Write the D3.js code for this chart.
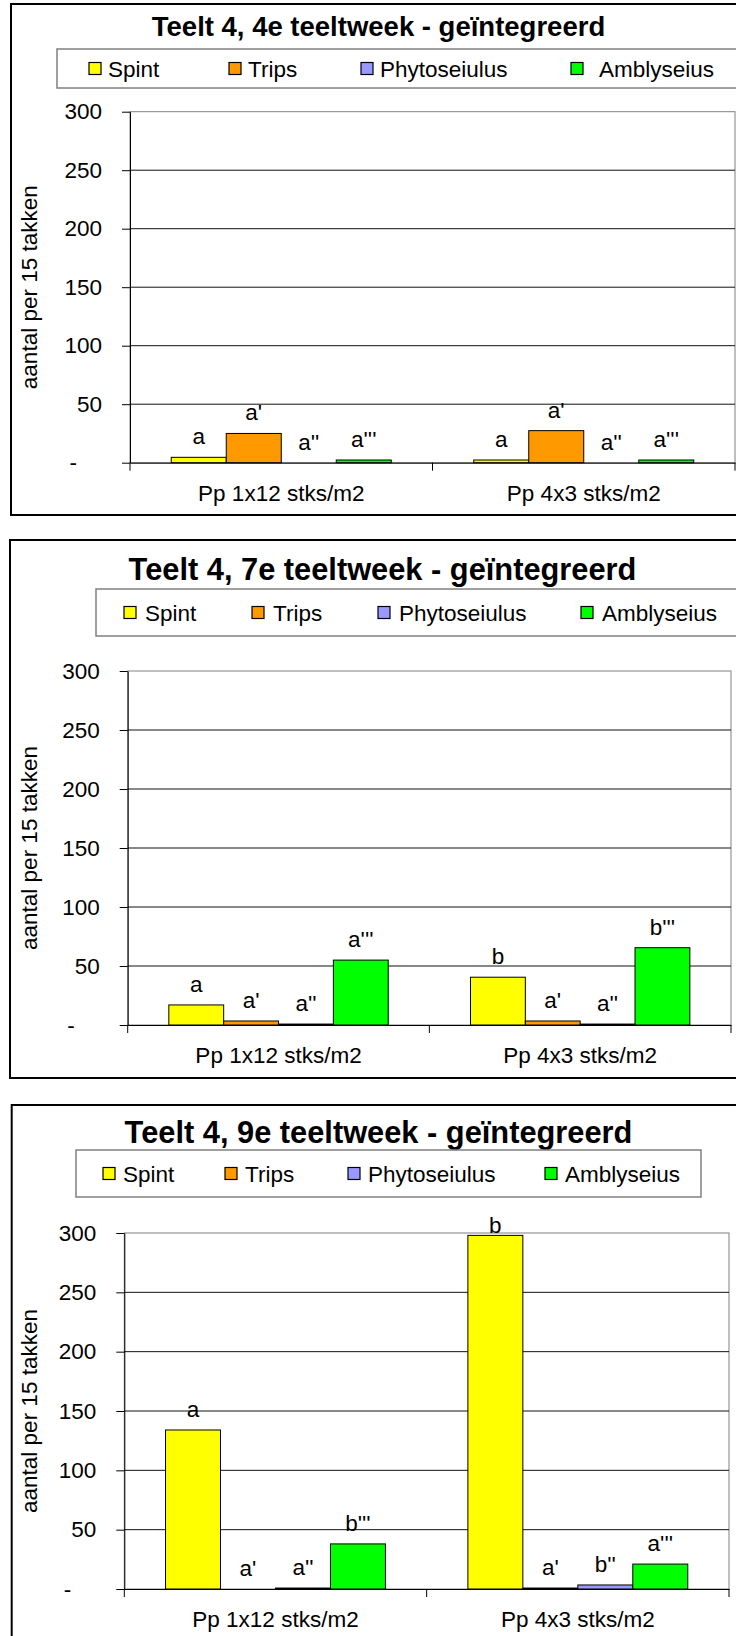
<!DOCTYPE html>
<html>
<head>
<meta charset="utf-8">
<script src="https://cdn.jsdelivr.net/npm/d3@7"></script>
<style>
  html, body { margin: 0; padding: 0; background: #fff; }
  svg { display: block; }
  text { font-family: "Liberation Sans", Arial, sans-serif; fill: #000; }
</style>
</head>
<body>
<script>
// ---------- DATA ----------
const categories = ["Pp 1x12 stks/m2", "Pp 4x3 stks/m2"];
const seriesNames = ["Spint", "Trips", "Phytoseiulus", "Amblyseius"];
const seriesColors = ["#FFFF00", "#FF9900", "#9999FF", "#00FF00"];
const titles = [
  "Teelt 4, 4e teeltweek - geïntegreerd",
  "Teelt 4, 7e teeltweek - geïntegreerd",
  "Teelt 4, 9e teeltweek - geïntegreerd"
];
const yAxisTitle = "aantal per 15 takken";
const yTicks = [0, 50, 100, 150, 200, 250, 300];
const yTickLabels = ["-", "50", "100", "150", "200", "250", "300"];

// week 4
const w4Spint = [4.6, 2.3];
const w4Trips = [25, 27.4];
const w4Phyto = [0, 0];
const w4Ambly = [2.3, 2.3];
const w4Letters = [["a", "a'", "a''", "a'''"], ["a", "a'", "a''", "a'''"]];
// week 7
const w7Spint = [17, 40.5];
const w7Trips = [3.4, 3.4];
const w7Phyto = [0.8, 0.8];
const w7Ambly = [55, 65.5];
const w7Letters = [["a", "a'", "a''", "a'''"], ["b", "a'", "a''", "b'''"]];
// week 9
const w9Spint = [134, 298];
const w9Trips = [0, 0.8];
const w9Phyto = [0.8, 3.4];
const w9Ambly = [38, 21];
const w9Letters = [["a", "a'", "a''", "b'''"], ["b", "a'", "b''", "a'''"]];

const chartSeries = [
  [w4Spint, w4Trips, w4Phyto, w4Ambly],
  [w7Spint, w7Trips, w7Phyto, w7Ambly],
  [w9Spint, w9Trips, w9Phyto, w9Ambly]
];
const chartLetters = [w4Letters, w7Letters, w9Letters];

// ---------- LAYOUT ----------
const layouts = [
  { border: {x: 11, y: 4, h: 511}, title: {x: 378.5, y: 36, size: 27.5},
    legend: {x: 57, y: 49, w: 760, h: 39, sq: [89, 229, 361, 571], off: [19, 19, 19, 28]},
    plot: {l: 130, r: 735, t: 111.7, b: 462.7} },
  { border: {x: 10, y: 540, h: 538}, title: {x: 382.5, y: 580, size: 30.8},
    legend: {x: 96, y: 589, w: 760, h: 47, sq: [124, 252, 378, 581], off: [21, 21, 21, 21]},
    plot: {l: 127.7, r: 731, t: 671, b: 1025} },
  { border: {x: 11.7, y: 1105, h: 700}, title: {x: 378.5, y: 1143, size: 30.8},
    legend: {x: 76, y: 1150, w: 625, h: 47, sq: [103, 225, 348, 545], off: [20, 20, 20, 20]},
    plot: {l: 124.3, r: 729, t: 1233, b: 1589} }
];
const FS = 22.5;

const svg = d3.select("body").append("svg")
  .attr("width", 736).attr("height", 1636);
svg.append("rect").attr("width", 736).attr("height", 1636).attr("fill", "#fff");

layouts.forEach((L, ci) => {
  const g = svg.append("g");
  // chart border
  g.append("rect")
    .attr("x", L.border.x).attr("y", L.border.y)
    .attr("width", 900).attr("height", L.border.h)
    .attr("fill", "#fff").attr("stroke", "#000").attr("stroke-width", 2);

  // title
  g.append("text")
    .attr("x", L.title.x).attr("y", L.title.y)
    .attr("text-anchor", "middle")
    .attr("font-weight", "bold")
    .attr("font-size", L.title.size)
    .text(titles[ci]);

  // legend
  const lg = L.legend;
  g.append("rect")
    .attr("x", lg.x).attr("y", lg.y).attr("width", lg.w).attr("height", lg.h)
    .attr("fill", "#fff").attr("stroke", "#808080").attr("stroke-width", 1.5);
  const cy = lg.y + lg.h / 2;
  seriesNames.forEach((name, si) => {
    g.append("rect")
      .attr("x", lg.sq[si]).attr("y", cy - 6)
      .attr("width", 12).attr("height", 12)
      .attr("fill", seriesColors[si]).attr("stroke", "#000").attr("stroke-width", 1.2);
    g.append("text")
      .attr("x", lg.sq[si] + lg.off[si]).attr("y", cy + 8)
      .attr("font-size", FS)
      .text(name);
  });

  // scales
  const P = L.plot;
  const x = d3.scaleBand().domain(categories).range([P.l, P.r]).paddingInner(0).paddingOuter(0);
  const xi = d3.scaleBand().domain(seriesNames).range([0, x.bandwidth()])
    .paddingInner(0).paddingOuter(0.75);
  const y = d3.scaleLinear().domain([0, 300]).range([P.b, P.t]);

  // plot area border
  g.append("rect")
    .attr("x", P.l).attr("y", y(300)).attr("width", P.r - P.l).attr("height", y(0) - y(300))
    .attr("fill", "#fff").attr("stroke", "#808080").attr("stroke-width", 1);

  // gridlines
  g.append("g").selectAll("line")
    .data(yTicks.filter(d => d > 0 && d < 300))
    .join("line")
    .attr("x1", P.l).attr("x2", P.r)
    .attr("y1", d => y(d)).attr("y2", d => y(d))
    .attr("stroke", "#111").attr("stroke-width", 1);

  // bars
  const series = chartSeries[ci];
  const letters = chartLetters[ci];
  categories.forEach((cat, k) => {
    const gg = g.append("g").attr("transform", `translate(${x(cat)},0)`);
    seriesNames.forEach((name, si) => {
      const v = series[si][k];
      if (v > 0) {
        gg.append("rect")
          .attr("x", xi(name)).attr("y", y(v))
          .attr("width", xi.bandwidth()).attr("height", y(0) - y(v))
          .attr("fill", seriesColors[si]).attr("stroke", "#000").attr("stroke-width", 1);
      }
      gg.append("text")
        .attr("x", xi(name) + xi.bandwidth() / 2)
        .attr("y", Math.max(y(v) - 13, P.t))
        .attr("text-anchor", "middle")
        .attr("font-size", FS)
        .text(letters[k][si]);
    });
  });

  // y axis
  const ya = g.append("g").attr("transform", `translate(${P.l},0)`)
    .call(d3.axisLeft(y).tickValues(yTicks).tickSize(8).tickSizeOuter(0).tickPadding(20)
      .tickFormat((d, i) => yTickLabels[i]));
  ya.select(".domain").attr("stroke", "#000");
  ya.selectAll(".tick line").attr("stroke", "#000");
  ya.selectAll(".tick text")
    .attr("font-size", FS).attr("font-family", null)
    .attr("dx", (d, i) => yTickLabels[i] === "-" ? -25 : 0);

  // x axis (labels)
  const xa = g.append("g").attr("transform", `translate(0,${y(0)})`)
    .call(d3.axisBottom(x).tickSize(0).tickPadding(22));
  xa.select(".domain").attr("stroke", "#000");
  xa.selectAll(".tick text").attr("font-size", FS).attr("font-family", null);
  // category boundary ticks
  const bounds = [P.l].concat(categories.map(c => x(c) + x.bandwidth()));
  g.append("g").selectAll("line").data(bounds).join("line")
    .attr("x1", d => d).attr("x2", d => d)
    .attr("y1", y(0)).attr("y2", y(0) + 8)
    .attr("stroke", "#000").attr("stroke-width", 1);

  // y axis title
  const ty = (y(0) + y(300)) / 2;
  g.append("text")
    .attr("transform", `translate(37,${ty}) rotate(-90)`)
    .attr("text-anchor", "middle")
    .attr("font-size", FS)
    .text(yAxisTitle);
});
</script>
</body>
</html>
